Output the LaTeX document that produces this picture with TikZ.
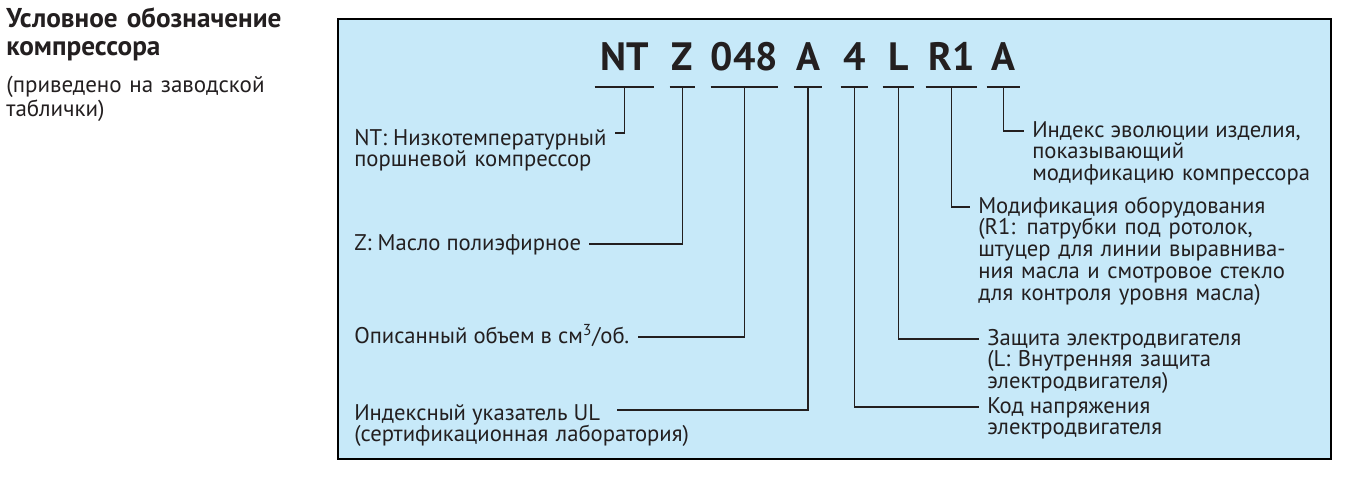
\documentclass[tikz,border=0pt]{standalone}
\usepackage{fontspec}
\setmainfont{PT Sans}
\usepackage{xcolor}
\usepackage{tikz}
\definecolor{panelblue}{RGB}{199,233,249}
\definecolor{inkblack}{RGB}{35,31,32}

\begin{document}
\begin{tikzpicture}[
    x=0.02cm, y=-0.02cm,
    title/.style={font=\fontsize{15.5}{15.5}\selectfont\bfseries, text=inkblack, inner sep=0pt, text width=7cm, align=left, anchor=base west},
    side/.style={font=\fontsize{13.1}{14.2}\selectfont, text=inkblack, inner sep=0pt, text width=7cm, align=left, anchor=base west},
    code/.style={font=\fontsize{22.5}{24}\selectfont\bfseries, text=inkblack, inner sep=0pt, text depth=9.1pt, anchor=south},
    lab/.style={font=\fontsize{12.9}{12.5}\selectfont, text=inkblack, inner xsep=4.5pt, inner ysep=0pt, text height=9.5pt, text depth=2.5pt, anchor=base west},
    more/.style={font=\fontsize{12.9}{12.5}\selectfont, text=inkblack, inner xsep=4.5pt, inner ysep=0pt, text width=7.5cm, align=left, anchor=base west},
    bar/.style={line width=1.1pt, inkblack},
    lead/.style={line width=1.1pt, inkblack},
]
    \useasboundingbox (0,0) rectangle (1350,480);

    % heading on the left
    \node[title] (head) at (6,28) {Условное обозначение\\компрессора};
    \node[side] (note) at (6,92) {(приведено на заводской};
    \node[side] (notemore) at ([yshift=-14.2pt]note.base west) {таблички)};

    \draw[line width=1.4pt, fill=panelblue] (338,19) rectangle (1331,459);

    % model code
    \node[code, minimum width=1.18cm] (nt) at (624.5,87) {NT};
    \node[code, minimum width=0.5cm] (oil) at (682.5,87) {Z};
    \node[code, minimum width=1.26cm] (disp) at (744.5,87) {048};
    \node[code, minimum width=0.56cm] (ul) at (808,87) {A};
    \node[code, minimum width=0.54cm] (volt) at (854.5,87) {4};
    \node[code, minimum width=0.62cm] (prot) at (898.5,87) {L};
    \node[code, minimum width=1.02cm] (equip) at (951.5,87) {R1};
    \node[code, minimum width=0.66cm] (evo) at (1003.5,87) {A};

    \draw[bar] (nt.south west) -- (nt.south east);
    \draw[bar] (oil.south west) -- (oil.south east);
    \draw[bar] (disp.south west) -- (disp.south east);
    \draw[bar] (ul.south west) -- (ul.south east);
    \draw[bar] (volt.south west) -- (volt.south east);
    \draw[bar] (prot.south west) -- (prot.south east);
    \draw[bar] (equip.south west) -- (equip.south east);
    \draw[bar] (evo.south west) -- (evo.south east);

    % left labels
    \node[lab] (ntlab) at (346,145) {NT: Низкотемпературный};
    \node[more] (ntmore) at ([yshift=-12.5pt]ntlab.base west) {поршневой компрессор};
    \node[lab] (oillab) at (346,250) {Z: Масло полиэфирное};
    \node[lab] (displab) at (346,343) {Описанный объем в см\textsuperscript{3}/об.};
    \node[lab] (ullab) at (346,420) {Индексный указатель UL};
    \node[more] (ulmore) at ([yshift=-12.5pt]ullab.base west) {(сертификационная лаборатория)};

    % right labels
    \node[lab] (evolab) at (1024,137) {Индекс эволюции изделия,};
    \node[more] (evomore) at ([yshift=-12.5pt]evolab.base west) {показывающий\\модификацию компрессора};
    \node[lab] (equiplab) at (970,213) {Модификация оборудования};
    \node[more] (equipmore) at ([yshift=-12.5pt]equiplab.base west) {(R1: патрубки под ротолок,\\штуцер для линии выравнива-\\ния масла и смотровое стекло\\для контроля уровня масла)};
    \node[lab] (protlab) at (979,345) {Защита электродвигателя};
    \node[more] (protmore) at ([yshift=-12.5pt]protlab.base west) {(L: Внутренняя защита\\электродвигателя)};
    \node[lab] (voltlab) at (979,413) {Код напряжения};
    \node[more] (voltmore) at ([yshift=-12.5pt]voltlab.base west) {электродвигателя};

    % leaders
    \draw[lead] (nt.south) |- ([yshift=3.4pt]ntlab.east);
    \draw[lead] (oil.south) |- (oillab.east);
    \draw[lead] (disp.south) |- (displab.east);
    \draw[lead] (ul.south) |- ([xshift=5pt, yshift=2.3pt]ullab.east);
    \draw[lead] (volt.south) |- (voltlab.west);
    \draw[lead] (prot.south) |- (protlab.west);
    \draw[lead] (equip.south) |- (equiplab.west);
    \draw[lead] (evo.south) |- (evolab.west);
\end{tikzpicture}
\end{document}
